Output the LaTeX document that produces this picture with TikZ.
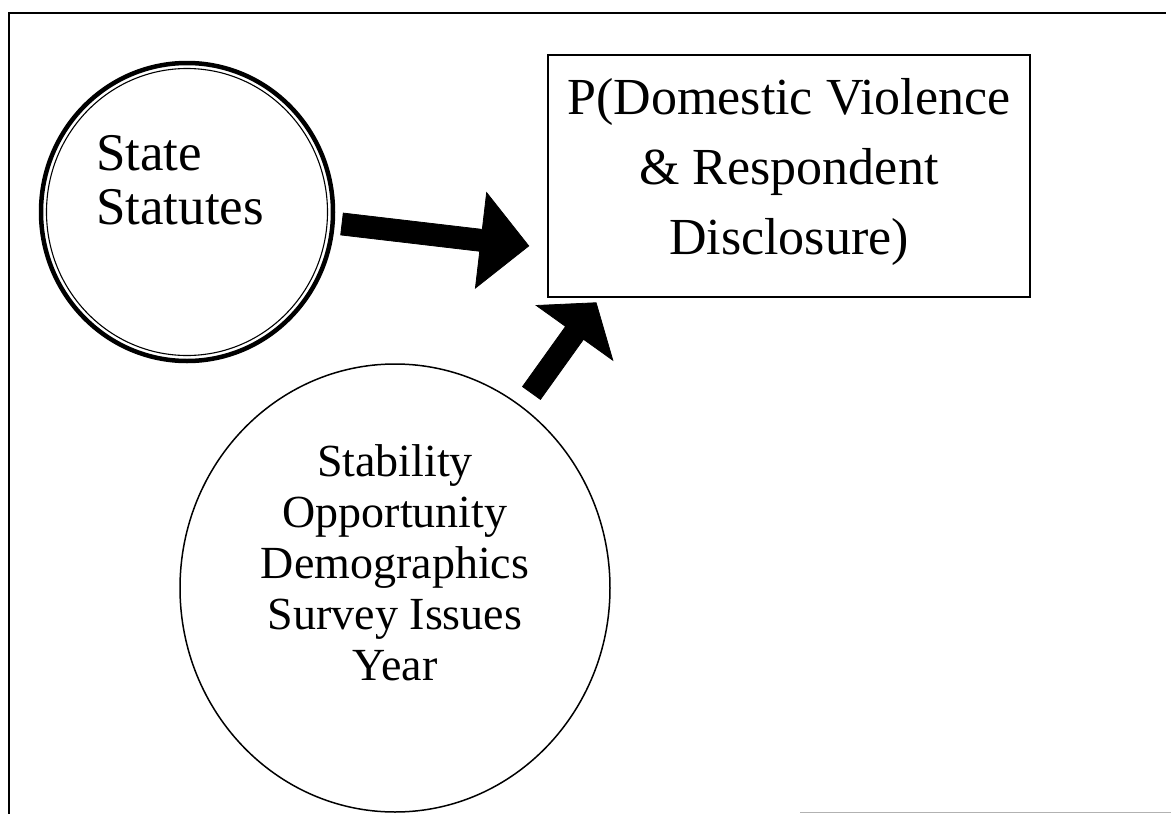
\documentclass[tikz,border=0pt]{standalone}
\usepackage{fontspec}
\setmainfont{Liberation Serif}
\usetikzlibrary{shapes.geometric}
\tikzset{
  shapebox/.style={draw=black, line width=1.6pt, inner sep=0pt},
  fatarrow/.style={fill=black, draw=black, line width=0.8pt, line join=miter},
  frameline/.style={draw=black, line width=2.6pt},
}
\begin{document}
\begin{tikzpicture}[x=1pt,y=-1pt]
\useasboundingbox (0,0) rectangle (1171,814);
\fill[white] (0,0) rectangle (1171,814);
% frame
\draw[frameline] (9,814) -- (9,13) -- (1166,13);
\draw[gray!60, line width=1pt] (800,812) -- (1171,812);
% State Statutes ellipse (double line)
\node[ellipse, draw=black, line width=4.5pt, minimum width=292pt, minimum height=298pt, inner sep=0pt] (st) at (187,212) {};
\node[ellipse, draw=black, line width=1.1pt, minimum width=281pt, minimum height=287pt, inner sep=0pt] (sti) at (187,212) {};
\node[anchor=base west, align=left, font=\fontsize{53}{54}\selectfont, inner sep=0pt] (stt) at (96,224) {State\\Statutes};
% box
\node[shapebox, minimum width=482pt, minimum height=242pt] (box) at (789,176) {};
\node[align=center, font=\fontsize{52}{70}\selectfont, inner sep=0pt] (boxt) at (789,172) {P(Domestic Violence\\\& Respondent\\Disclosure)};
% lower ellipse
\node[ellipse, draw=black, line width=1.5pt, minimum width=430pt, minimum height=448pt, inner sep=0pt] (low) at (395,588) {};
\node[align=center, font=\fontsize{46}{51}\selectfont, inner sep=0pt] (lowt) at (395,563) {Stability\\Opportunity\\Demographics\\Survey Issues\\Year};
% arrow 1
\coordinate (a1) at (342,224);
\begin{scope}[shift={(a1)}, rotate=-6.7]
\path[fatarrow] (0,-11) -- (140,-11) -- (140,-48) -- (188,0) -- (140,48) -- (140,11) -- (0,11) -- cycle;
\end{scope}
% arrow 2
\coordinate (a2) at (531.5,393);
\begin{scope}[shift={(a2)}, rotate=54.4]
\path[fatarrow] (0,-11) -- (74,-11) -- (74,-47) -- (111,0) -- (74,47) -- (74,11) -- (0,11) -- cycle;
\end{scope}
\end{tikzpicture}
\end{document}
